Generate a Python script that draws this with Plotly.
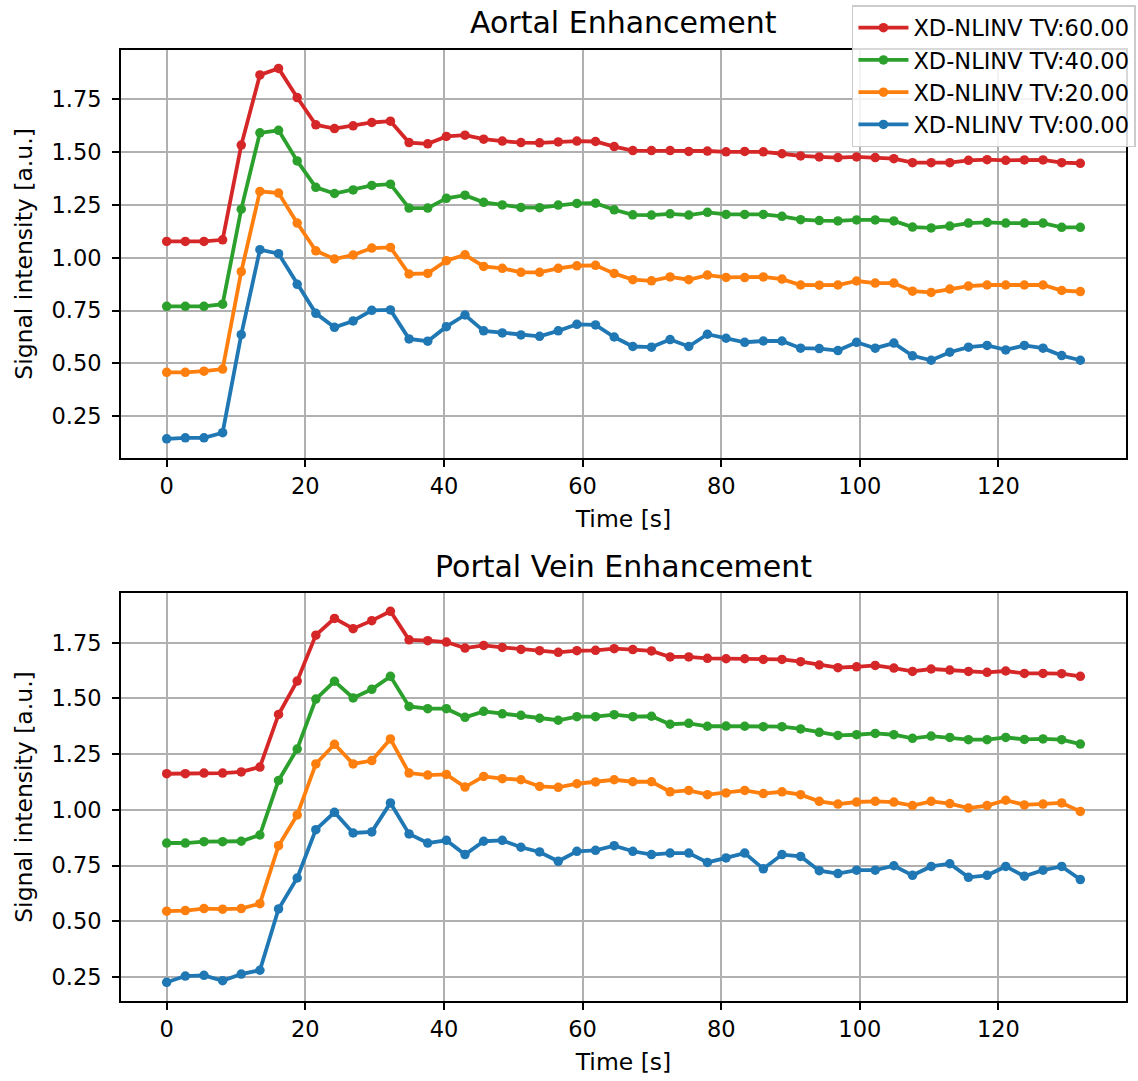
import plotly.graph_objects as go

time_s = [0.00, 2.69, 5.38, 8.07, 10.76, 13.45, 16.14, 18.83, 21.52, 24.21,
          26.90, 29.59, 32.28, 34.97, 37.66, 40.35, 43.04, 45.73, 48.42, 51.11,
          53.80, 56.49, 59.18, 61.87, 64.56, 67.25, 69.94, 72.63, 75.32, 78.01,
          80.70, 83.39, 86.08, 88.77, 91.46, 94.15, 96.84, 99.53, 102.22, 104.91,
          107.60, 110.29, 112.98, 115.67, 118.36, 121.05, 123.74, 126.43, 129.12, 131.81]

series_names = ["XD-NLINV TV:60.00", "XD-NLINV TV:40.00", "XD-NLINV TV:20.00", "XD-NLINV TV:00.00"]
series_colors = ["#d62728", "#2ca02c", "#ff7f0e", "#1f77b4"]

aortal_tv60 = [1.077, 1.077, 1.077, 1.085, 1.533, 1.865, 1.896, 1.758, 1.629, 1.611,
               1.624, 1.640, 1.646, 1.545, 1.539, 1.574, 1.580, 1.561, 1.552, 1.545,
               1.544, 1.548, 1.552, 1.550, 1.526, 1.507, 1.507, 1.507, 1.503, 1.505,
               1.501, 1.503, 1.501, 1.492, 1.482, 1.477, 1.474, 1.477, 1.474, 1.469,
               1.450, 1.450, 1.450, 1.461, 1.464, 1.461, 1.463, 1.463, 1.450, 1.447]
aortal_tv40 = [0.770, 0.770, 0.770, 0.780, 1.230, 1.591, 1.603, 1.458, 1.333, 1.304,
               1.321, 1.342, 1.348, 1.235, 1.235, 1.281, 1.296, 1.262, 1.250, 1.238,
               1.237, 1.249, 1.257, 1.258, 1.227, 1.203, 1.202, 1.208, 1.202, 1.215,
               1.205, 1.205, 1.205, 1.196, 1.180, 1.176, 1.174, 1.179, 1.179, 1.174,
               1.145, 1.141, 1.150, 1.164, 1.167, 1.164, 1.164, 1.164, 1.144, 1.144]
aortal_tv20 = [0.458, 0.458, 0.463, 0.473, 0.934, 1.314, 1.306, 1.164, 1.033, 0.994,
               1.013, 1.046, 1.049, 0.923, 0.926, 0.986, 1.014, 0.959, 0.950, 0.931,
               0.931, 0.950, 0.962, 0.964, 0.926, 0.896, 0.891, 0.909, 0.896, 0.918,
               0.907, 0.906, 0.909, 0.899, 0.871, 0.870, 0.871, 0.890, 0.880, 0.880,
               0.842, 0.836, 0.852, 0.866, 0.871, 0.871, 0.871, 0.871, 0.845, 0.840]
aortal_tv00 = [0.143, 0.148, 0.148, 0.172, 0.636, 1.038, 1.019, 0.874, 0.737, 0.671,
               0.701, 0.751, 0.753, 0.616, 0.605, 0.674, 0.729, 0.654, 0.644, 0.635,
               0.628, 0.654, 0.685, 0.682, 0.625, 0.580, 0.577, 0.613, 0.580, 0.638,
               0.619, 0.600, 0.606, 0.606, 0.572, 0.570, 0.561, 0.600, 0.572, 0.596,
               0.536, 0.515, 0.553, 0.577, 0.585, 0.564, 0.585, 0.572, 0.537, 0.515]

portal_tv60 = [1.162, 1.162, 1.165, 1.165, 1.170, 1.192, 1.428, 1.578, 1.784, 1.859,
               1.813, 1.849, 1.891, 1.763, 1.759, 1.753, 1.726, 1.738, 1.729, 1.720,
               1.714, 1.707, 1.714, 1.716, 1.723, 1.719, 1.713, 1.686, 1.686, 1.680,
               1.678, 1.678, 1.675, 1.675, 1.665, 1.650, 1.638, 1.642, 1.648, 1.636,
               1.621, 1.632, 1.627, 1.621, 1.617, 1.623, 1.612, 1.612, 1.611, 1.599]
portal_tv40 = [0.851, 0.851, 0.857, 0.857, 0.859, 0.887, 1.132, 1.273, 1.497, 1.577,
               1.502, 1.541, 1.599, 1.464, 1.454, 1.454, 1.415, 1.442, 1.431, 1.424,
               1.411, 1.402, 1.418, 1.418, 1.427, 1.418, 1.420, 1.384, 1.388, 1.375,
               1.376, 1.375, 1.373, 1.373, 1.363, 1.348, 1.334, 1.337, 1.343, 1.337,
               1.321, 1.331, 1.325, 1.315, 1.315, 1.325, 1.316, 1.318, 1.315, 1.295]
portal_tv20 = [0.545, 0.548, 0.557, 0.554, 0.557, 0.579, 0.839, 0.977, 1.206, 1.294,
               1.206, 1.221, 1.318, 1.165, 1.156, 1.159, 1.102, 1.150, 1.140, 1.135,
               1.105, 1.101, 1.117, 1.125, 1.135, 1.126, 1.126, 1.081, 1.087, 1.068,
               1.076, 1.087, 1.073, 1.081, 1.068, 1.038, 1.026, 1.035, 1.038, 1.035,
               1.019, 1.038, 1.028, 1.008, 1.019, 1.043, 1.022, 1.026, 1.031, 0.993]
portal_tv00 = [0.226, 0.254, 0.257, 0.233, 0.263, 0.280, 0.555, 0.694, 0.911, 0.989,
               0.896, 0.901, 1.031, 0.892, 0.851, 0.863, 0.799, 0.859, 0.863, 0.832,
               0.811, 0.769, 0.814, 0.818, 0.839, 0.814, 0.799, 0.806, 0.806, 0.764,
               0.784, 0.806, 0.735, 0.799, 0.791, 0.727, 0.714, 0.729, 0.729, 0.749,
               0.706, 0.746, 0.758, 0.697, 0.706, 0.746, 0.702, 0.729, 0.746, 0.687]

aortal = [aortal_tv60, aortal_tv40, aortal_tv20, aortal_tv00]
portal = [portal_tv60, portal_tv40, portal_tv20, portal_tv00]

FONT = "DejaVu Sans"
TICK_SIZE = 22.5
LABEL_SIZE = 23.5
fig = go.Figure()

for k, (name, color) in enumerate(zip(series_names, series_colors)):
    fig.add_trace(go.Scatter(
        x=time_s, y=aortal[k], name=name, mode="lines+markers",
        line=dict(color=color, width=3.8),
        marker=dict(color=color, size=9.5),
        legendgroup="g%d" % k, showlegend=True,
        xaxis="x", yaxis="y"))
for k, (name, color) in enumerate(zip(series_names, series_colors)):
    fig.add_trace(go.Scatter(
        x=time_s, y=portal[k], name=name, mode="lines+markers",
        line=dict(color=color, width=3.8),
        marker=dict(color=color, size=9.5),
        legendgroup="g%d" % k, showlegend=False,
        xaxis="x2", yaxis="y2"))

axis_common = dict(
    showline=True, mirror=True, linecolor="black", linewidth=1.8,
    ticks="outside", ticklen=7, tickwidth=1.8, tickcolor="black",
    showgrid=True, gridcolor="#b0b0b0", gridwidth=1.6, zeroline=False,
    tickfont=dict(family=FONT, size=TICK_SIZE, color="black"),
    automargin=False,
)

xr = [-6.59, 138.40]
fig.update_layout(
    width=1138, height=1081,
    margin=dict(l=121, r=12, t=50, b=80, autoexpand=False),
    paper_bgcolor="white", plot_bgcolor="white",
    font=dict(family=FONT, color="black"),
    xaxis=dict(domain=[0, 1], anchor="y", range=xr, dtick=20, tick0=0,
               ticklabelstandoff=0,
               title=dict(text="Time [s]", font=dict(family=FONT, size=LABEL_SIZE), standoff=13),
               **axis_common),
    yaxis=dict(domain=[0.571, 1], anchor="x", range=[0.0525, 1.983], dtick=0.25, tick0=0.25,
               tickformat=".2f", ticklabelstandoff=6,
               title=dict(text="Signal intensity [a.u.]", font=dict(family=FONT, size=LABEL_SIZE), standoff=12),
               **axis_common),
    xaxis2=dict(domain=[0, 1], anchor="y2", range=xr, dtick=20, tick0=0,
                ticklabelstandoff=0,
                title=dict(text="Time [s]", font=dict(family=FONT, size=LABEL_SIZE), standoff=13),
                **axis_common),
    yaxis2=dict(domain=[0, 0.429], anchor="x2", range=[0.142, 1.973], dtick=0.25, tick0=0.25,
                tickformat=".2f", ticklabelstandoff=6,
                title=dict(text="Signal intensity [a.u.]", font=dict(family=FONT, size=LABEL_SIZE), standoff=12),
                **axis_common),
    legend=dict(x=1.0099, y=1.0473, xanchor="right", yanchor="top",
                bgcolor="rgba(255,255,255,0.85)", bordercolor="#cccccc", borderwidth=1.5,
                font=dict(family=FONT, size=22.5, color="black"),
                tracegroupgap=0, itemwidth=50),
    showlegend=True,
    annotations=[
        dict(text="Aortal Enhancement", x=0.5, y=1.0294, xref="paper", yref="paper",
             xanchor="center", yanchor="middle", showarrow=False,
             font=dict(family=FONT, size=30, color="black")),
        dict(text="Portal Vein Enhancement", x=0.5, y=0.4564, xref="paper", yref="paper",
             xanchor="center", yanchor="middle", showarrow=False,
             font=dict(family=FONT, size=30, color="black")),
    ],
)

fig.write_html("out.html")
